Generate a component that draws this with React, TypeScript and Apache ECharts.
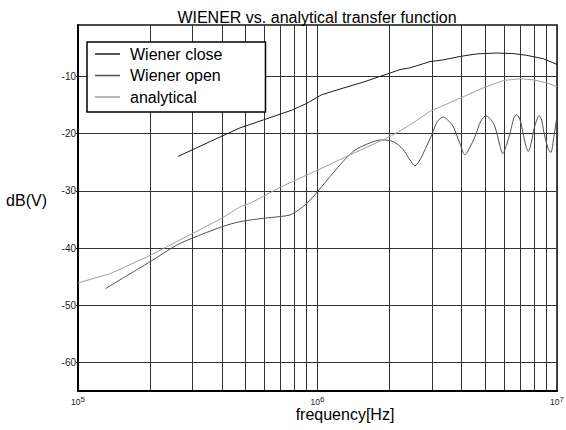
import React, { useEffect, useRef } from "react";
import * as echarts from "echarts";

// ---- data (frequency in Hz, level in dB(V)) ----
const closeFreq = [2.61e5, 4.25e5, 4.74e5, 5.22e5, 5.94e5, 7.8e5, 9.02e5, 1.04e6, 1.24e6, 1.55e6, 1.82e6, 2.01e6, 2.21e6, 2.43e6, 2.95e6, 3.35e6, 3.94e6, 4.62e6, 5.6e6, 6.58e6, 7.46e6, 8.77e6, 1.0e7];
const closeDb = [-24.0, -19.9, -19.0, -18.4, -17.6, -15.9, -14.7, -13.2, -12.2, -11.0, -10.0, -9.4, -8.8, -8.5, -7.4, -7.1, -6.5, -6.05, -5.9, -6.0, -6.3, -6.9, -7.9];

const openFreq = [1.3e5, 2.0e5, 2.58e5, 2.99e5, 3.98e5, 4.74e5, 5.94e5, 6.97e5, 7.8e5, 9.02e5, 9.98e5, 1.16e6, 1.41e6, 1.66e6, 1.854e6, 2.075e6, 2.28e6, 2.432e6, 2.553e6, 2.661e6, 2.767e6, 3.0e6, 3.162e6, 3.35e6, 3.532e6, 3.69e6, 3.936e6, 4.13e6, 4.315e6, 4.55e6, 4.808e6, 5.058e6, 5.309e6, 5.508e6, 5.754e6, 5.929e6, 6.152e6, 6.368e6, 6.607e6, 6.792e6, 6.998e6, 7.129e6, 7.379e6, 7.586e6, 7.816e6, 8.035e6, 8.433e6, 8.63e6, 8.77e6, 9.162e6, 9.419e6, 9.705e6, 1.0e7];
const openDb = [-47.1, -42.4, -39.5, -38.3, -36.3, -35.4, -34.8, -34.5, -34.1, -32.2, -30.2, -26.9, -23.1, -21.6, -21.1, -21.4, -22.8, -24.6, -25.6, -24.8, -23.4, -20.2, -17.9, -17.1, -17.8, -18.8, -21.8, -23.7, -22.5, -20.5, -17.8, -16.9, -17.6, -18.8, -21.8, -23.5, -22.0, -19.9, -17.3, -16.7, -17.5, -18.8, -21.8, -23.1, -21.5, -19.0, -16.9, -17.6, -19.3, -22.5, -23.3, -20.5, -17.0];

const analyticalFreq = [1.0e5, 1.36e5, 2.0e5, 2.34e5, 2.99e5, 3.98e5, 4.74e5, 5.22e5, 6.97e5, 9.98e5, 1.37e6, 2.01e6, 2.21e6, 2.43e6, 2.95e6, 3.94e6, 4.92e6, 5.97e6, 7.01e6, 7.96e6, 9.06e6, 1.0e7];
const analyticalDb = [-46.1, -44.5, -41.3, -39.8, -37.5, -34.8, -32.8, -32.2, -29.4, -26.4, -23.7, -20.5, -19.5, -18.5, -16.1, -13.8, -12.0, -10.7, -10.4, -10.6, -11.1, -11.8];

const seriesNames = ["Wiener close", "Wiener open", "analytical"];
const xLabelValues = [1e5, 1e6, 1e7];
const xGridValues = [1e5, 2e5, 3e5, 4e5, 5e5, 6e5, 7e5, 8e5, 9e5, 1e6, 2e6, 3e6, 4e6, 5e6, 6e6, 7e6, 8e6, 9e6, 1e7];
const yTickValues = [-60, -50, -40, -30, -20, -10];

const FONT = "'Liberation Sans', Arial, Helvetica, sans-serif";

function pairs(xs: number[], ys: number[]) {
  return xs.map((x, i) => [x, ys[i]]);
}

export default function App() {
  const ref = useRef<HTMLDivElement>(null);

  useEffect(() => {
    document.body.style.margin = "0";
    if (!ref.current) return;
    const chart = echarts.init(ref.current, undefined, { renderer: "svg" });
    const gridColor = "#333";
    chart.setOption({
      animation: false,
      backgroundColor: "#fff",
      title: {
        text: "WIENER vs. analytical transfer function",
        left: 317,
        top: 9,
        textAlign: "center",
        padding: 0,
        textStyle: { fontSize: 16, fontWeight: "normal", color: "#000", fontFamily: FONT },
      },
      legend: {
        orient: "vertical",
        left: 87,
        top: 42,
        padding: [3.5, 43, 6.5, 8],
        itemGap: 4.5,
        itemWidth: 25,
        itemHeight: 1.5,
        icon: "rect",
        backgroundColor: "#fff",
        borderColor: "#000",
        borderWidth: 1.5,
        selectedMode: false,
        data: seriesNames,
        textStyle: { fontSize: 16, fontFamily: FONT, color: "#000", padding: [0, 0, 0, 5], lineHeight: 17 },
      },
      grid: {
        left: 78,
        right: 9,
        top: 25,
        bottom: 39,
        show: true,
        borderColor: "#111",
        borderWidth: 1.5,
        backgroundColor: "transparent",
        containLabel: false,
        outerBoundsMode: "none",
      },
      xAxis: {
        type: "log",
        logBase: 10,
        min: 1e5,
        max: 1e7,
        name: "frequency[Hz]",
        nameLocation: "middle",
        nameGap: 15,
        nameMoveOverlap: false,
        nameTextStyle: { fontSize: 16, fontFamily: FONT, color: "#000", padding: [0, 0, 0, 55], verticalAlign: "top" },
        axisLine: { show: true, lineStyle: { color: "#000", width: 2 } },
        axisTick: { show: false, customValues: xGridValues },
        splitLine: { show: true, lineStyle: { color: gridColor, width: 1 } },
        minorTick: { show: false },
        minorSplitLine: { show: false },
        axisLabel: {
          customValues: xLabelValues,
          margin: 4,
          formatter: (v: number) => `{b|10}{s|${Math.round(Math.log10(v))}}`,
          rich: {
            b: { fontSize: 8.5, fontFamily: FONT, color: "#222", lineHeight: 11, verticalAlign: "bottom" },
            s: { fontSize: 8, fontFamily: FONT, color: "#222", lineHeight: 8, verticalAlign: "top" },
          },
        },
      },
      yAxis: {
        type: "value",
        min: -65,
        max: -1,
        name: "dB(V)",
        nameLocation: "middle",
        nameRotate: 0,
        nameGap: 31,
        nameMoveOverlap: false,
        nameTextStyle: { fontSize: 16, fontFamily: FONT, color: "#000", verticalAlign: "bottom", lineHeight: 16, padding: [0, 0, 0, 0] },
        axisLine: { show: true, lineStyle: { color: "#000", width: 2 } },
        axisTick: { show: true, length: 2, customValues: yTickValues, lineStyle: { color: "#000" } },
        splitLine: { show: true, lineStyle: { color: gridColor, width: 1 } },
        axisLabel: {
          customValues: yTickValues,
          margin: 2,
          fontSize: 10,
          fontFamily: FONT,
          color: "#222",
        },
      },
      series: [
        {
          name: seriesNames[0],
          type: "line",
          data: pairs(closeFreq, closeDb),
          showSymbol: false,
          symbol: "none",
          color: "#1c1c1c",
          lineStyle: { color: "#1c1c1c", width: 1 },
          emphasis: { disabled: true },
          silent: true,
        },
        {
          name: seriesNames[1],
          type: "line",
          data: pairs(openFreq, openDb),
          showSymbol: false,
          symbol: "none",
          smooth: 0.3,
          color: "#505050",
          lineStyle: { color: "#505050", width: 1 },
          emphasis: { disabled: true },
          silent: true,
        },
        {
          name: seriesNames[2],
          type: "line",
          data: pairs(analyticalFreq, analyticalDb),
          showSymbol: false,
          symbol: "none",
          color: "#a0a0a0",
          lineStyle: { color: "#a0a0a0", width: 1 },
          emphasis: { disabled: true },
          silent: true,
        },
      ],
    });
    return () => chart.dispose();
  }, []);

  return (
    <div
      ref={ref}
      style={{ position: "absolute", left: 0, top: 0, width: 566, height: 430, background: "#fff" }}
    />
  );
}
